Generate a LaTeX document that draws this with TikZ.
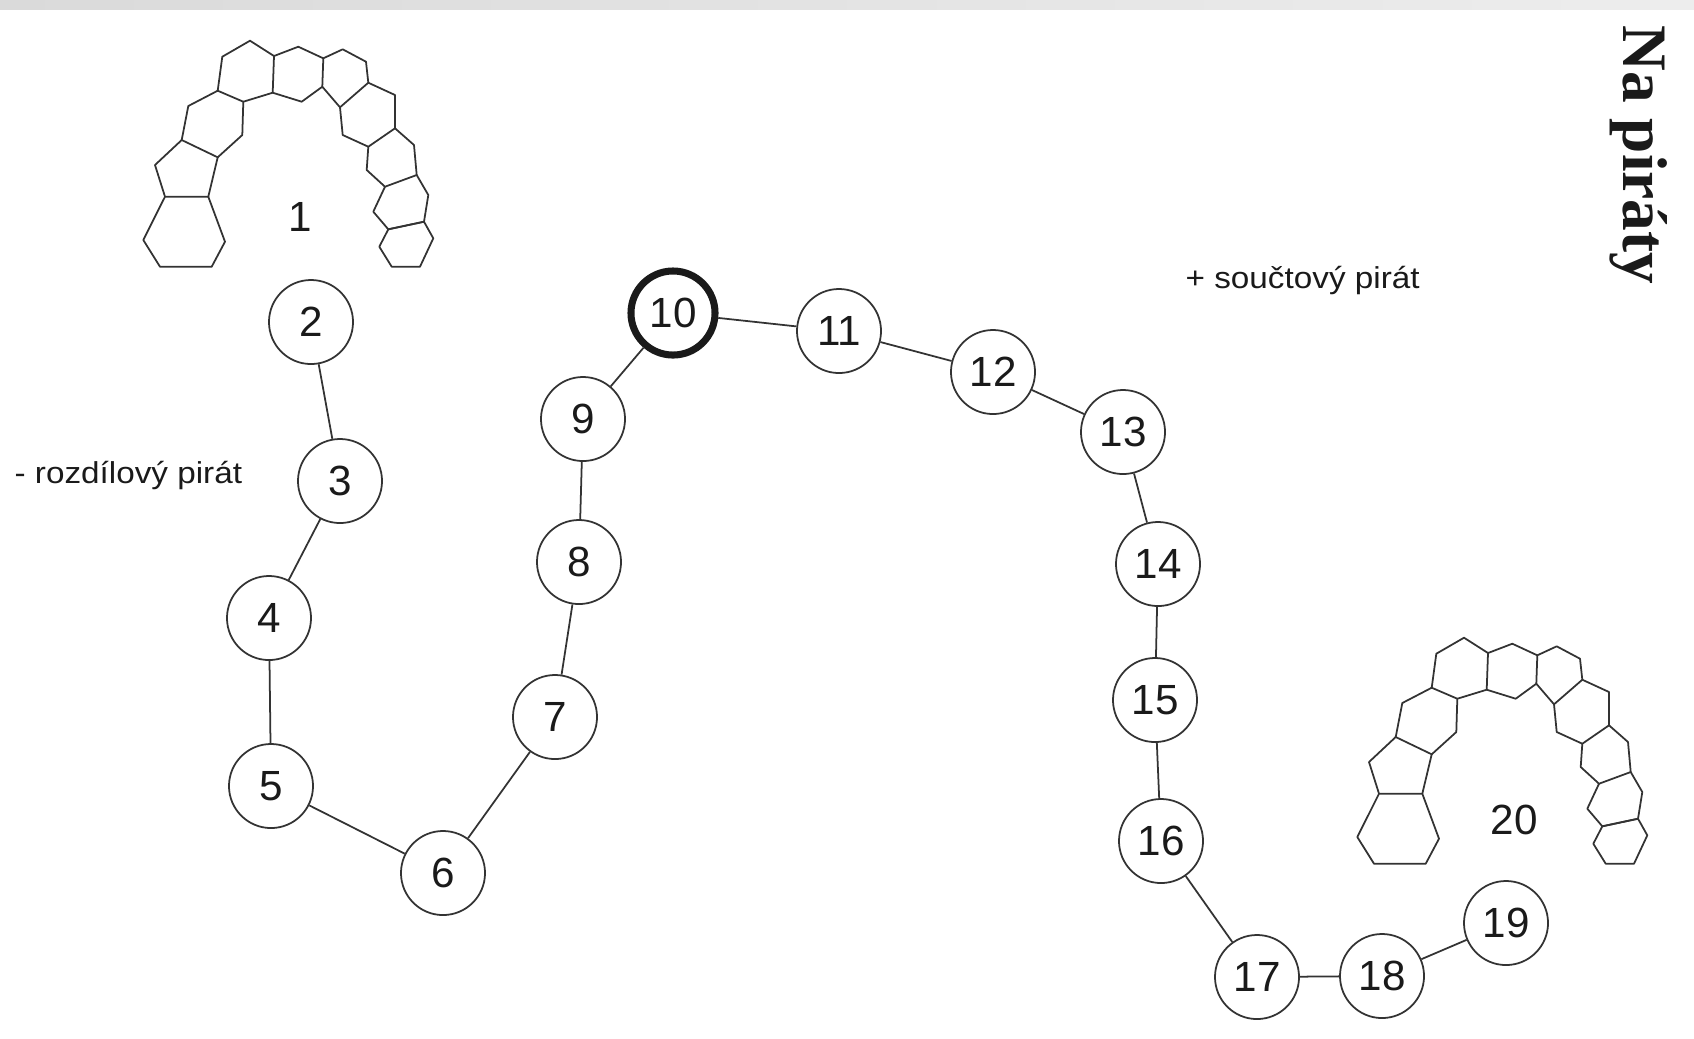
\documentclass[tikz,border=0pt]{standalone}
\usepackage{fontspec}
\setmainfont{Liberation Sans}
\newfontfamily\popisfont[FakeStretch=1.1]{Liberation Sans}
\newfontfamily\nadpisfont{Liberation Serif}
\definecolor{couleurcara}{HTML}{333333}
\definecolor{couleurtext}{HTML}{1A1A1A}
\definecolor{couleurpruhl}{HTML}{DADADA}
\definecolor{couleurpruhr}{HTML}{EDEDED}
\tikzset{
		spoj/.style={draw=couleurcara, line width=0.5pt},
		pole/.style={draw=couleurcara, circle, line width=0.5pt, minimum size=0.84cm, inner sep=0pt, text=couleurtext, font=\fontsize{12}{14}\selectfont},
		start/.style={pole, draw=couleurtext, line width=2pt},
		popis/.style={inner sep=0pt, anchor=base west, text=couleurtext, font=\popisfont\fontsize{8.6}{10}\selectfont},
		cislo/.style={inner sep=0pt, text=couleurtext, font=\fontsize{12}{14}\selectfont},
		zub/.style={draw=couleurcara, line width=0.5pt, line join=round},
		chrup/.pic={
			% levá strana
			\draw[zub] (165,196.7) -- (208.3,196.7) -- (225,241.7) -- (211.7,266.7) -- (160,266.7) -- (143.3,240) -- cycle;
			\draw[zub] (165,196.7) -- (155,165) -- (181.7,140) -- (217.7,157.3) -- (208.3,196.7);
			\draw[zub] (181.7,140) -- (188.3,106) -- (217.7,90.7) -- (243.3,101.7) -- (242.3,135) -- (217.7,157.3);
			\draw[zub] (217.7,90.7) -- (222.3,56.7) -- (250,40.7) -- (274,56) -- (272.7,92.7) -- (243.3,101.7);
			% středy
			\draw[zub] (274,56) -- (298.3,46.7) -- (323.3,58.3) -- (322.3,86.7) -- (301.7,101.7) -- (272.7,92.7);
			\draw[zub] (323.3,58.3) -- (342.7,49.3) -- (366,61.7) -- (368.3,82.7) -- (340,107.3) -- (322.3,86.7);
			% pravá strana
			\draw[zub] (368.3,82.7) -- (395,95) -- (395,128.3) -- (368.3,146.7) -- (342.7,135) -- (340,107.3);
			\draw[zub] (395,128.3) -- (414,145) -- (416.7,175) -- (385,186.7) -- (366.7,170) -- (368.3,146.7);
			\draw[zub] (416.7,175) -- (428.3,195) -- (424,221.7) -- (388.3,229.3) -- (373.3,211.7) -- (385,186.7);
			\draw[zub] (388.3,229.3) -- (424,221.7) -- (433.3,238.3) -- (420,266.7) -- (391.7,266.7) -- (379.3,246.7) -- cycle;
		}
	}
\begin{document}
\begin{tikzpicture}[x=0.01cm, y=-0.01cm]
		\useasboundingbox (0,0) rectangle (1694,1038);
		\shade[left color=couleurpruhl, right color=couleurpruhr] (0,0) rectangle (1694,9);
		% chrup
		\pic at (0,0) {chrup};
		\pic at (1214,597) {chrup};
		\node[cislo](cislo1) at (300,217){1};
		\node[cislo](cislo20) at (1514,820){20};
		% popisy
		\node[popis](rozdpira) at (14,483){- rozdílový pirát};
		\node[popis](soucpira) at (1185,288){+ součtový pirát};
		\node[inner sep=0pt, rotate=-90, anchor=base west, text=couleurtext, font=\nadpisfont\bfseries\fontsize{18}{20}\selectfont](nadpis) at (1623,25){Na piráty};
		% pole
		\node[pole](pole2) at (311,322){2};
		\node[pole](pole3) at (340,481){3};
		\node[pole](pole4) at (269,618){4};
		\node[pole](pole5) at (271,786){5};
		\node[pole](pole6) at (443,873){6};
		\node[pole](pole7) at (555,717){7};
		\node[pole](pole8) at (579,562){8};
		\node[pole](pole9) at (583,419){9};
		\node[start](pole10) at (673,313){10};
		\node[pole](pole11) at (839,331){11};
		\node[pole](pole12) at (993,372){12};
		\node[pole](pole13) at (1123,432){13};
		\node[pole](pole14) at (1158,564){14};
		\node[pole](pole15) at (1155,700){15};
		\node[pole](pole16) at (1161,841){16};
		\node[pole](pole17) at (1257,977){17};
		\node[pole](pole18) at (1382,976){18};
		\node[pole](pole19) at (1506,923){19};
		% spoje
		\draw[spoj] (pole2) -- (pole3) (pole3) -- (pole4) (pole4) -- (pole5) (pole5) -- (pole6) (pole6) -- (pole7) (pole7) -- (pole8);
		\draw[spoj] (pole8) -- (pole9) (pole9) -- (pole10) (pole10) -- (pole11) (pole11) -- (pole12) (pole12) -- (pole13) (pole13) -- (pole14);
		\draw[spoj] (pole14) -- (pole15) (pole15) -- (pole16) (pole16) -- (pole17) (pole17) -- (pole18) (pole18) -- (pole19);
	\end{tikzpicture}
\end{document}
